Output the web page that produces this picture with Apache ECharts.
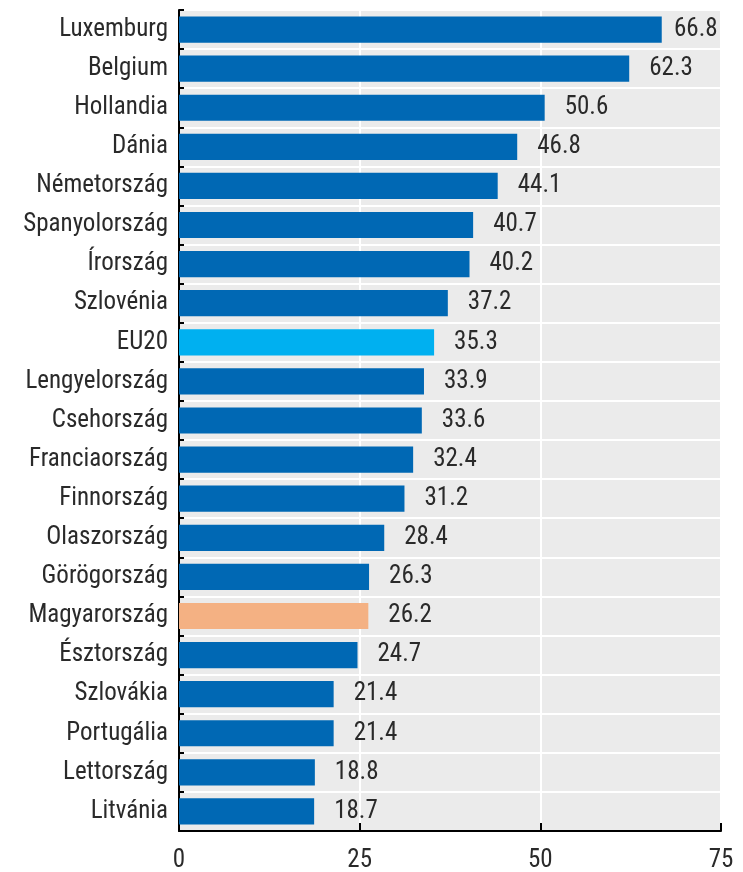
<!DOCTYPE html>
<html><head><meta charset="utf-8">
<script src="https://cdn.jsdelivr.net/npm/echarts@6/dist/echarts.min.js"></script>
<style>html,body{margin:0;padding:0;background:#fff}#c{width:743px;height:872px}</style>
</head><body><div id="c"></div>
<script>
const categories = ["Luxemburg","Belgium","Hollandia","Dánia","Németország","Spanyolország","Írország","Szlovénia","EU20","Lengyelország","Csehország","Franciaország","Finnország","Olaszország","Görögország","Magyarország","Észtország","Szlovákia","Portugália","Lettország","Litvánia"];
const values = [66.8,62.3,50.6,46.8,44.1,40.7,40.2,37.2,35.3,33.9,33.6,32.4,31.2,28.4,26.3,26.2,24.7,21.4,21.4,18.8,18.7];
const xTicks = [0,25,50,75];
const highlight = {"EU20":"#00b0f0","Magyarország":"#f4b183"};
const baseColor = "#0068b4";

const font = "'Roboto Condensed', 'DejaVu Sans Condensed', 'Liberation Sans', sans-serif";
const fs = 25;
const textColor = '#2a2a2a';
const xMax = xTicks[xTicks.length-1];
const plotW = 743 - 179 - 22;
const chart = echarts.init(document.getElementById('c'));
chart.setOption({
  animation:false,
  grid:{left:179,right:22,top:10,bottom:41,containLabel:false,outerBoundsMode:'none'},
  xAxis:{type:'value',min:xTicks[0],max:xMax,interval:25,
    axisLine:{show:true,lineStyle:{color:'#000',width:2}},
    axisTick:{show:true,inside:true,length:8,lineStyle:{color:'#000',width:2}},
    axisLabel:{fontFamily:font,fontSize:fs,color:textColor,margin:17},
    splitLine:{show:true,lineStyle:{color:'#fff',width:2}}},
  yAxis:{type:'category',data:categories,inverse:true,
    axisLine:{show:true,lineStyle:{color:'#000',width:2}},
    axisTick:{show:true,inside:true,length:5,lineStyle:{color:'#000',width:2}},
    axisLabel:{fontFamily:font,fontSize:fs,color:textColor,margin:11},
    splitArea:{show:true,areaStyle:{color:['#ebebeb','#ebebeb']}},
    splitLine:{show:true,lineStyle:{color:'#fff',width:2}}},
  series:[{type:'bar',barCategoryGap:'33%',
    data:values.map((v,i)=>({value:v,itemStyle:{color:highlight[categories[i]]||baseColor},
      label:{distance:Math.min(20,(xMax-v)*plotW/xMax-47)}})),
    label:{show:true,position:'right',fontFamily:font,fontSize:fs,color:textColor,formatter:p=>p.value.toFixed(1)}}]
});
</script></body></html>
